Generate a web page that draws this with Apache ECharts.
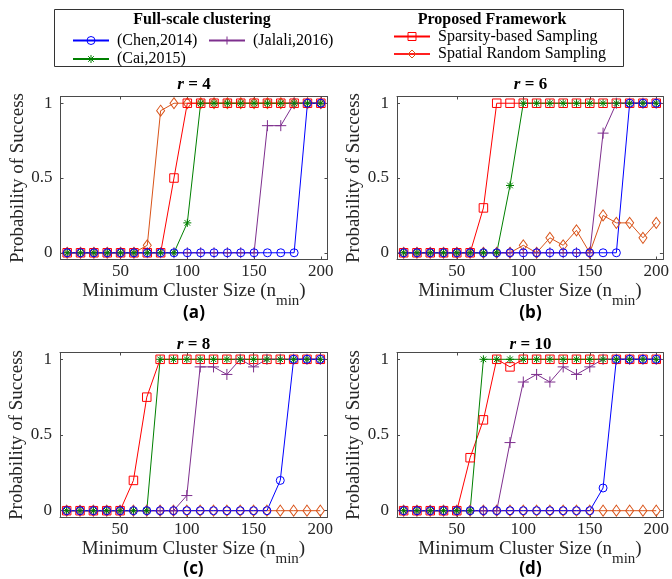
<!DOCTYPE html>
<html>
<head>
<meta charset="utf-8">
<script src="https://cdn.jsdelivr.net/npm/echarts@6/dist/echarts.min.js"></script>
<style>
html,body{margin:0;padding:0;background:#fff;}
#chart{width:672px;height:579px;}
</style>
</head>
<body>
<div id="chart"></div>
<script>
// ---------------- DATA ----------------
const nMin = [10,20,30,40,50,60,70,80,90,100,110,120,130,140,150,160,170,180,190,200];
const xTicks = [50,100,150,200];
const yTicks = [0,0.5,1];
const panelTitles = ['4','6','8','10'];
const panelLabels = ['(a)','(b)','(c)','(d)'];
const seriesNames = ['Spatial Random Sampling','Sparsity-based Sampling','(Jalali,2016)','(Cai,2015)','(Chen,2014)'];

// r = 4
const spatial4  = [0,0,0,0,0,0,0.05,0.95,1,1,1,1,1,1,1,1,1,1,1,1];
const sparsity4 = [0,0,0,0,0,0,0,0,0.5,1,1,1,1,1,1,1,1,1,1,1];
const jalali4   = [0,0,0,0,0,0,0,0,0,0,0,0,0,0,0,0.85,0.85,1,1,1];
const cai4      = [0,0,0,0,0,0,0,0,0,0.2,1,1,1,1,1,1,1,1,1,1];
const chen4     = [0,0,0,0,0,0,0,0,0,0,0,0,0,0,0,0,0,0,1,1];
// r = 6
const spatial6  = [0,0,0,0,0,0,0,0,0,0.05,0,0.1,0.05,0.15,0,0.25,0.2,0.2,0.1,0.2];
const sparsity6 = [0,0,0,0,0,0,0.3,1,1,1,1,1,1,1,1,1,1,1,1,1];
const jalali6   = [0,0,0,0,0,0,0,0,0,0,0,0,0,0,0,0.8,1,1,1,1];
const cai6      = [0,0,0,0,0,0,0,0,0.45,1,1,1,1,1,1,1,1,1,1,1];
const chen6     = [0,0,0,0,0,0,0,0,0,0,0,0,0,0,0,0,0,1,1,1];
// r = 8
const spatial8  = [0,0,0,0,0,0,0,0,0,0,0,0,0,0,0,0,0,0,0,0];
const sparsity8 = [0,0,0,0,0,0.2,0.75,1,1,1,1,1,1,1,1,1,1,1,1,1];
const jalali8   = [0,0,0,0,0,0,0,0,0,0.1,0.95,0.95,0.9,1,0.95,1,1,1,1,1];
const cai8      = [0,0,0,0,0,0,0,1,1,1,1,1,1,1,1,1,1,1,1,1];
const chen8     = [0,0,0,0,0,0,0,0,0,0,0,0,0,0,0,0,0.2,1,1,1];
// r = 10
const spatial10  = [0,0,0,0,0,0,0,0,0,0,0,0,0,0,0,0,0,0,0,0];
const sparsity10 = [0,0,0,0,0,0.35,0.6,1,0.95,1,1,1,1,1,1,1,1,1,1,1];
const jalali10   = [0,0,0,0,0,0,0,0,0.45,0.85,0.9,0.85,0.95,0.9,0.95,1,1,1,1,1];
const cai10      = [0,0,0,0,0,0,1,1,1,1,1,1,1,1,1,1,1,1,1,1];
const chen10     = [0,0,0,0,0,0,0,0,0,0,0,0,0,0,0,0.15,1,1,1,1];

const panels = [
  [spatial4, sparsity4, jalali4, cai4, chen4],
  [spatial6, sparsity6, jalali6, cai6, chen6],
  [spatial8, sparsity8, jalali8, cai8, chen8],
  [spatial10, sparsity10, jalali10, cai10, chen10]
];

// ---------------- STYLE ----------------
const SERIF = 'Liberation Serif';
const TXT = '#262626';
const FRAME = '#4a4a4a';
const styles = [
  {color:'#D95319', symbol:'diamond', size:[8,11]},
  {color:'#FF0000', symbol:'rect', size:8.5},
  {color:'#7E2F8E', symbol:'path://M-10,0L10,0M0,-10L0,10', size:11},
  {color:'#008000', symbol:'path://M-10,0L10,0M0,-10L0,10M-7,-7L7,7M-7,7L7,-7', size:8},
  {color:'#0000FF', symbol:'circle', size:8}
];
const grids = [
  {left:60.5, top:96.5, width:267, height:163},
  {left:397, top:96.5, width:267, height:163},
  {left:60, top:352.5, width:267, height:165},
  {left:397, top:352.5, width:267, height:165}
];

const labelFont = {fontSize:17, fontFamily:SERIF, fontWeight:'normal', color:TXT};
const xAxes = [], yAxes = [], series = [];
grids.forEach((g, gi) => {
  const bottom = {
    gridIndex: gi, type:'value', min:5, max:205, position:'bottom',
    axisLine:{show:true, onZero:false, lineStyle:{color:FRAME, width:1}},
    axisTick:{show:true, inside:true, length:3, customValues:xTicks, lineStyle:{color:FRAME}},
    axisLabel:Object.assign({show:true, customValues:xTicks, margin:4}, labelFont),
    splitLine:{show:false},
    name:'{m|Minimum Cluster Size (n}{s|min}{m|)}',
    nameLocation:'middle', nameGap: gi < 2 ? 20 : 21,
    nameTextStyle:{
      color:TXT, fontFamily:SERIF, fontSize:19, fontWeight:'normal',
      rich:{
        m:{fontSize:19, fontFamily:SERIF, fontWeight:'normal', color:TXT, lineHeight:19, verticalAlign:'top'},
        s:{fontSize:15, fontFamily:SERIF, fontWeight:'normal', color:TXT, lineHeight:13, padding:[12,0,0,0], verticalAlign:'top'}
      }
    }
  };
  const top = {
    gridIndex: gi, type:'value', min:5, max:205, position:'top',
    axisLine:{show:true, onZero:false, lineStyle:{color:FRAME, width:1}},
    axisTick:{show:true, inside:true, length:3, customValues:xTicks, lineStyle:{color:FRAME}},
    axisLabel:{show:false}, splitLine:{show:false}
  };
  const left = {
    gridIndex: gi, type:'value', min:-0.045, max:1.045, position:'left',
    axisLine:{show:true, onZero:false, lineStyle:{color:FRAME, width:1}},
    axisTick:{show:true, inside:true, length:3, customValues:yTicks, lineStyle:{color:FRAME}},
    axisLabel:Object.assign({show:true, customValues:yTicks, margin:8}, labelFont),
    splitLine:{show:false},
    name:'Probability of Success', nameLocation:'middle', nameGap:33,
    nameTextStyle:{color:TXT, fontFamily:SERIF, fontSize:19, fontWeight:'normal'}
  };
  const right = {
    gridIndex: gi, type:'value', min:-0.045, max:1.045, position:'right',
    axisLine:{show:true, onZero:false, lineStyle:{color:FRAME, width:1}},
    axisTick:{show:true, inside:true, length:3, customValues:yTicks, lineStyle:{color:FRAME}},
    axisLabel:{show:false}, splitLine:{show:false}
  };
  xAxes.push(bottom, top);
  yAxes.push(left, right);
  panels[gi].forEach((vals, si) => {
    const st = styles[si];
    series.push({
      type:'line', name: seriesNames[si],
      xAxisIndex: gi*2, yAxisIndex: gi*2,
      data: nMin.map((x, k) => [x, vals[k]]),
      symbol: st.symbol, symbolSize: st.size, showSymbol:true,
      lineStyle:{color:st.color, width:1},
      itemStyle:{color:'rgba(0,0,0,0)', borderColor:st.color, borderWidth:1},
      emphasis:{disabled:true},
      clip:false, animation:false, silent:true
    });
  });
});

function legendAt(name, left, cy, lineColor) {
  const item = {name: name};
  if (lineColor) item.lineStyle = {color: lineColor};
  return {
    data:[item], left:left, top:cy - 9, padding:0, itemWidth:36, itemHeight:10, itemGap:0,
    selectedMode:false,
    textStyle:{fontFamily:SERIF, fontSize:16, color:'#000', padding:[0,0,0,3]},
    itemStyle:{borderWidth:1}
  };
}
const legends = [
  legendAt('(Chen,2014)', 72, 41.5),
  legendAt('(Jalali,2016)', 208, 41.5),
  legendAt('(Cai,2015)', 72, 60),
  legendAt('Sparsity-based Sampling', 393, 37.5),
  legendAt('Spatial Random Sampling', 393, 55, '#FF2020')
];

const graphics = [
  {type:'rect', shape:{x:54.5, y:9.5, width:569, height:57}, style:{fill:'none', stroke:'#333', lineWidth:1}, silent:true},
  {type:'text', x:202, y:20, style:{text:'Full-scale clustering', fontFamily:SERIF, fontWeight:'bold', fontSize:16, fill:'#000', align:'center', verticalAlign:'middle'}},
  {type:'text', x:492, y:20, style:{text:'Proposed Framework', fontFamily:SERIF, fontWeight:'bold', fontSize:16, fill:'#000', align:'center', verticalAlign:'middle'}}
];
grids.forEach((g, gi) => {
  const cx = g.left + g.width / 2;
  graphics.push({type:'text', x:cx, y:g.top - (gi < 2 ? 11.5 : 8), style:{
    text:'{i|r} = ' + panelTitles[gi], fontFamily:SERIF, fontWeight:'bold', fontSize:17, fill:'#000', align:'center', verticalAlign:'middle',
    rich:{i:{fontStyle:'italic', fontWeight:'bold', fontSize:17, fontFamily:SERIF, fill:'#000'}}
  }});
  graphics.push({type:'text', x:cx, y: gi < 2 ? 313 : 569, style:{
    text: panelLabels[gi], fontFamily:'Open Sans', fontWeight:'bold', fontSize:17, fill:'#000', align:'center', verticalAlign:'middle'
  }});
});

const chart = echarts.init(document.getElementById('chart'), null, {renderer:'canvas'});
chart.setOption({
  animation:false,
  backgroundColor:'#fff',
  textStyle:{fontFamily:SERIF},
  grid: grids.map(g => Object.assign({containLabel:false}, g)),
  xAxis: xAxes, yAxis: yAxes,
  legend: legends,
  series: series,
  graphic: graphics
});
</script>
</body>
</html>
